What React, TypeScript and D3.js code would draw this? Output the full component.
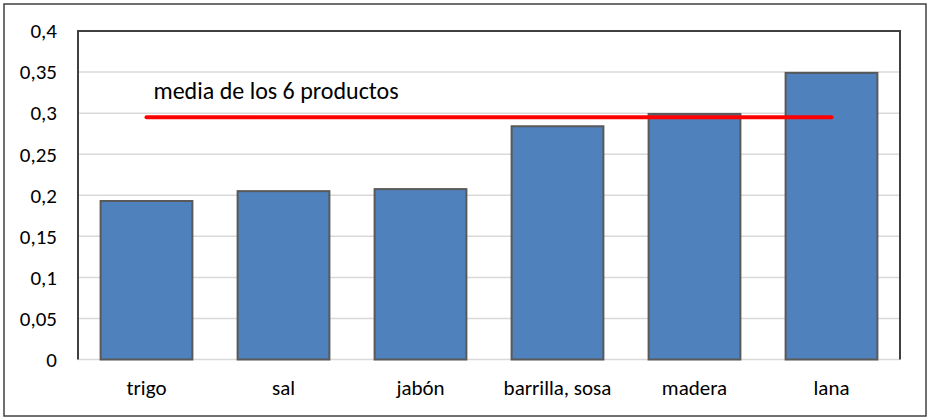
import React, { useEffect, useRef } from 'react';
import * as d3 from 'd3';

const categories = ['trigo', 'sal', 'jabón', 'barrilla, sosa', 'madera', 'lana'];
const values = [0.193, 0.205, 0.2075, 0.284, 0.299, 0.349];
const meanValue = 0.295;
const meanLabel = 'media de los 6 productos';
const yTicks = [0, 0.05, 0.1, 0.15, 0.2, 0.25, 0.3, 0.35, 0.4];

const FONT = "Calibri, Carlito, 'Open Sans', sans-serif";

const App: React.FC = () => {
  const ref = useRef<SVGSVGElement>(null);

  useEffect(() => {
    document.body.style.margin = '0';
    if (!ref.current) return;
    const svg = d3.select(ref.current);
    svg.selectAll('*').remove();

    const W = 930, H = 420;
    const margin = { top: 31, right: 30, bottom: 60, left: 78 };
    const width = 900 - margin.left;
    const height = 359.5 - margin.top;

    // outer chart frame
    svg.append('rect')
      .attr('x', 4).attr('y', 4)
      .attr('width', W - 8).attr('height', H - 8)
      .attr('fill', '#fff')
      .attr('stroke', '#404040')
      .attr('stroke-width', 1.5);

    const g = svg.append('g').attr('transform', `translate(${margin.left},${margin.top})`);

    const x = d3.scaleBand().domain(categories).range([0, width]).paddingInner(0.33).paddingOuter(0.165);
    const xc = d3.scalePoint().domain(categories).range([0, width]).padding(0.5);
    const y = d3.scaleLinear().domain([0, 0.4]).range([height, 0]);
    const fmt = (d: number) => String(+d.toFixed(2)).replace('.', ',');

    // gridlines
    g.selectAll('line.grid')
      .data(yTicks.filter(t => t < 0.4))
      .join('line')
      .attr('class', 'grid')
      .attr('x1', 0).attr('x2', width)
      .attr('y1', d => y(d)).attr('y2', d => y(d))
      .attr('stroke', '#d9d9d9')
      .attr('stroke-width', 1.5);

    // y tick labels
    g.selectAll('text.ytick')
      .data(yTicks)
      .join('text')
      .attr('class', 'ytick')
      .attr('x', -21)
      .attr('y', d => y(d))
      .attr('dy', '0.35em')
      .attr('text-anchor', 'end')
      .attr('font-family', FONT)
      .attr('font-size', 21)
      .attr('fill', '#000')
      .text(d => fmt(d));

    // bars
    g.selectAll('rect.bar')
      .data(values)
      .join('rect')
      .attr('class', 'bar')
      .attr('x', (d, i) => x(categories[i])!)
      .attr('y', d => y(d))
      .attr('width', x.bandwidth())
      .attr('height', d => height - y(d))
      .attr('fill', '#4f81bd')
      .attr('stroke', '#595959')
      .attr('stroke-width', 2);

    // plot frame: left, top, right
    g.append('path')
      .attr('d', `M0,${height}V0H${width}V${height}`)
      .attr('fill', 'none')
      .attr('stroke', '#404040')
      .attr('stroke-width', 2);

    // x labels
    g.selectAll('text.xlab')
      .data(categories)
      .join('text')
      .attr('class', 'xlab')
      .attr('x', d => xc(d)!)
      .attr('y', height + 35)
      .attr('text-anchor', 'middle')
      .attr('font-family', FONT)
      .attr('font-size', 21)
      .attr('fill', '#000')
      .text(d => d);

    // mean line
    const line = d3.line<string>().x(d => xc(d)!).y(() => y(meanValue));
    g.append('path')
      .attr('d', line([categories[0], categories[categories.length - 1]]))
      .attr('fill', 'none')
      .attr('stroke', '#ff0000')
      .attr('stroke-width', 4)
      .attr('stroke-linecap', 'round');

    g.append('text')
      .attr('x', xc(categories[0])! + 7)
      .attr('y', y(meanValue) - 18)
      .attr('font-family', FONT)
      .attr('font-size', 24)
      .attr('fill', '#000')
      .text(meanLabel);
  }, []);

  return <svg ref={ref} width={930} height={420} style={{ display: 'block' }} />;
};

export default App;
